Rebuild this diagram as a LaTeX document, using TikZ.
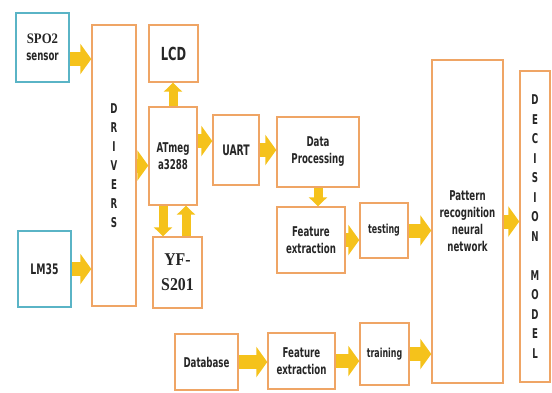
\documentclass[tikz,border=0pt]{standalone}
\usepackage{fontspec}
\setmainfont{DejaVu Sans}[FakeStretch=0.64]
\newfontfamily\serb{Liberation Serif}[FakeStretch=0.88]
\usepackage{xcolor}
\usepackage{tikz}
\usetikzlibrary{arrows.meta}
\definecolor{boxc}{HTML}{EFA565}
\definecolor{sens}{HTML}{5AB4C6}
\definecolor{arrc}{HTML}{F5C21B}
\definecolor{txt}{HTML}{262626}

\begin{document}
\begin{tikzpicture}[x=1pt,y=-1pt,
  b/.style={draw=boxc,line width=1.4pt,inner sep=0pt,align=center,text=txt,
    font=\bfseries\fontsize{13.5}{17}\selectfont},
  sb/.style={b,draw=sens},
  sz/.style 2 args={minimum width=#1pt,minimum height=#2pt},
  fat/.style={draw=arrc,line width=14pt,-{Triangle[width=30pt,length=11pt]}},
  fatv/.style={draw=arrc,line width=9pt,-{Triangle[width=18pt,length=9pt]}}]
 \useasboundingbox (0,0) rectangle (552,392);
 % sensors and drivers
 \node[sb,sz={53}{69}] (spo) at (42.5,47.5) {{\serb\fontsize{14.5}{20}\selectfont SPO2}\\sensor};
 \node[sb,sz={53}{76}] (lm) at (44.5,269) {\fontsize{14.5}{17}\selectfont LM35};
 \node[b,sz={44}{281},font=\bfseries\fontsize{13.5}{19}\selectfont] (drv) at (114,165.5)
   {D\\R\\I\\V\\E\\R\\S};
 % controller
 \node[b,sz={49}{57},font=\bfseries\fontsize{18}{20}\selectfont] (lcd) at (173.5,53.5) {LCD};
 \node[b,sz={48}{98}] (atm) at (173,156) {ATmeg\\a3288};
 \node[b,sz={49}{71},font=\serb\bfseries\fontsize{18}{25}\selectfont] (yf) at (177.5,272.5) {YF-\\S201};
 \node[b,sz={46}{70},font=\bfseries\fontsize{14.5}{17}\selectfont] (uart) at (236,150) {UART};
 % processing
 \node[b,sz={82}{70}] (dp) at (318,152) {Data\\Processing};
 \node[b,sz={68}{66}] (fe1) at (311,240) {Feature\\extraction};
 \node[b,sz={48}{55},font=\bfseries\fontsize{12.4}{17}\selectfont] (test) at (384,230.5) {testing};
 \node[b,sz={63}{56}] (db) at (206.5,362) {Database};
 \node[b,sz={67}{56}] (fe2) at (301.5,361) {Feature\\extraction};
 \node[b,sz={49}{62},font=\bfseries\fontsize{12.4}{17}\selectfont] (train) at (384.5,354) {training};
 \node[b,sz={71}{323}] (pat) at (467.5,221.5) {Pattern\\recognition\\neural\\network};
 \node[b,sz={30}{311},font=\bfseries\fontsize{13.5}{19.5}\selectfont] (dec) at (535,226.5)
   {D\\E\\C\\I\\S\\I\\O\\N\\[19.5pt]M\\O\\D\\E\\L};
 % arrows
 \foreach \a/\b in {lm/drv,drv/atm,uart/dp,fe1/test,test/pat,pat/dec,db/fe2,fe2/train,train/pat}
   \draw[fat] (\a.east) -- (\a.east -| \b.west);
 \draw[fat] ([yshift=-11.5pt]spo.east) -- ([yshift=-11.5pt]spo.east -| drv.west);
 \draw[fat] ([yshift=15pt]atm.east) -- ([yshift=15pt]atm.east -| uart.west);
 \draw[fatv] (atm.north) -- (atm.north |- lcd.south);
 \draw[fatv] ([xshift=-10pt]atm.south) -- ([xshift=-10pt]atm.south |- yf.north);
 \draw[fatv] ([xshift=13pt]atm.south |- yf.north) -- ([xshift=13pt]atm.south);
 \draw[fatv] (dp.south) -- (dp.south |- fe1.north);
\end{tikzpicture}
\end{document}
